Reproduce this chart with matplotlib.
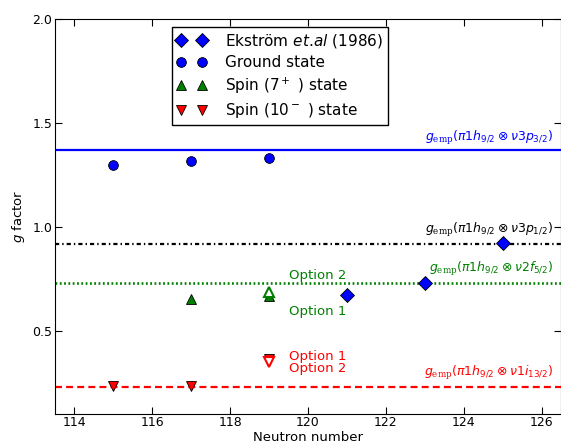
import matplotlib
matplotlib.use('Agg')
import matplotlib.pyplot as plt

plt.rcParams['mathtext.fontset'] = 'custom'
plt.rcParams['mathtext.rm'] = 'DejaVu Sans'
plt.rcParams['mathtext.it'] = 'DejaVu Sans:italic'
plt.rcParams['mathtext.bf'] = 'DejaVu Sans:bold'
plt.rcParams['mathtext.cal'] = 'DejaVu Serif'
plt.rcParams['lines.scale_dashes'] = False

# horizontal reference values g_emp
g_emp_p32 = 1.37
g_emp_p12 = 0.92
g_emp_f52 = 0.73
g_emp_i132 = 0.23

# measured / calculated values
ekstrom_n = [121, 123, 125]
ekstrom_g = [0.673, 0.731, 0.923]
ground_n = [115, 117, 119]
ground_g = [1.30, 1.318, 1.333]
spin7_n = [117, 119]
spin7_g = [0.654, 0.665]
spin7_opt2_n = [119]
spin7_opt2_g = [0.685]
spin10_n = [115, 117, 119]
spin10_g = [0.235, 0.235, 0.362]
spin10_opt2_n = [119]
spin10_opt2_g = [0.347]

fig = plt.figure(figsize=(5.61, 4.46), dpi=100)
ax = fig.add_axes([0.098, 0.0724, 0.902, 0.884])

ax.axhline(g_emp_p32, color='blue', lw=1.6)
ax.axhline(g_emp_p12, color='black', lw=1.6, ls=(0, (3, 2.2, 1, 2.2)))
ax.axhline(g_emp_f52, color='green', lw=1.9, ls=(0, (1.3, 1.8)))
ax.axhline(g_emp_i132, color='red', lw=1.6, ls=(0, (5, 3)))

ax.plot(ekstrom_n, ekstrom_g, 'D', color='blue', mec='black', mew=0.6, ms=7.5,
        label=u'Ekstr\u00f6m $\\mathit{et.\\!al}$ (1986)')
ax.plot(ground_n, ground_g, 'o', color='blue', mec='black', mew=0.6, ms=7,
        label='Ground state')
ax.plot(spin7_n, spin7_g, '^', color='green', mec='black', mew=0.6, ms=6.5,
        label='Spin ($7^+$ ) state')
ax.plot(spin10_n, spin10_g, 'v', color='red', mec='black', mew=0.6, ms=6.5,
        label='Spin ($10^-$ ) state')
ax.plot(spin7_opt2_n, spin7_opt2_g, '^', mfc='white', mec='green', mew=1.5, ms=6.5)
ax.plot(spin10_opt2_n, spin10_opt2_g, 'v', mfc='white', mec='red', mew=1.5, ms=6.5)

ax.text(119.52, 0.765, 'Option 2', color='green', fontsize=9.5, va='center')
ax.text(119.52, 0.592, 'Option 1', color='green', fontsize=9.5, va='center')
ax.text(119.52, 0.375, 'Option 1', color='red', fontsize=9.5, va='center')
ax.text(119.52, 0.317, 'Option 2', color='red', fontsize=9.5, va='center')

xr = 126.3
ax.text(xr, g_emp_p32 + 0.06, r'$g_{\mathcal{emp}}(\pi 1h_{9/2}\otimes\nu 3p_{3/2})$',
        color='blue', fontsize=9, ha='right', va='center')
ax.text(xr, g_emp_p12 + 0.065, r'$g_{\mathcal{emp}}(\pi 1h_{9/2}\otimes\nu 3p_{1/2})$',
        color='black', fontsize=9, ha='right', va='center')
ax.text(xr, g_emp_f52 + 0.065, r'$g_{\mathcal{emp}}(\pi 1h_{9/2}\otimes\nu 2f_{5/2})$',
        color='green', fontsize=9, ha='right', va='center')
ax.text(xr, g_emp_i132 + 0.065, r'$g_{\mathcal{emp}}(\pi 1h_{9/2}\otimes\nu 1i_{13/2})$',
        color='red', fontsize=9, ha='right', va='center')

ax.set_xlim(113.5, 126.5)
ax.set_ylim(0.1, 2.0)
ax.set_xticks(range(114, 127, 2))
ax.set_yticks([0.5, 1.0, 1.5, 2.0])
ax.tick_params(direction='in', top=True, right=True, labelsize=9, length=5, pad=2)
ax.set_xlabel('Neutron number', fontsize=9.5, labelpad=1)
ax.set_ylabel('$g$ factor', fontsize=9.5)

ax.legend(loc='upper left', bbox_to_anchor=(0.231, 0.981), borderaxespad=0,
          numpoints=2, fontsize=11, fancybox=False, edgecolor='black',
          framealpha=1, handlelength=2.0, handletextpad=1.2, borderpad=0.3,
          labelspacing=0.36)

fig.savefig('out.png', dpi=100)
